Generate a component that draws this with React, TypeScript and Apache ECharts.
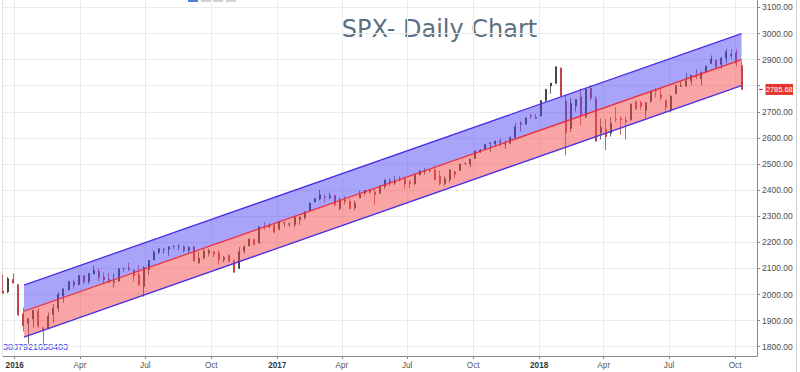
import React, { useEffect, useRef } from "react";
import * as echarts from "echarts";

// Weekly candles (week starting Monday)
const weekStarts = [
  "2015-12-14", "2015-12-21", "2015-12-28",
  "2016-01-04", "2016-01-11", "2016-01-18", "2016-01-25", "2016-02-01", "2016-02-08", "2016-02-15", "2016-02-22", "2016-02-29", "2016-03-07",
  "2016-03-14", "2016-03-21", "2016-03-28", "2016-04-04", "2016-04-11", "2016-04-18", "2016-04-25", "2016-05-02", "2016-05-09", "2016-05-16",
  "2016-05-23", "2016-05-30", "2016-06-06", "2016-06-13", "2016-06-20", "2016-06-27", "2016-07-04", "2016-07-11", "2016-07-18", "2016-07-25",
  "2016-08-01", "2016-08-08", "2016-08-15", "2016-08-22", "2016-08-29", "2016-09-05", "2016-09-12", "2016-09-19", "2016-09-26", "2016-10-03",
  "2016-10-10", "2016-10-17", "2016-10-24", "2016-10-31", "2016-11-07", "2016-11-14", "2016-11-21", "2016-11-28", "2016-12-05", "2016-12-12",
  "2016-12-19", "2016-12-26",
  "2017-01-02", "2017-01-09", "2017-01-16", "2017-01-23", "2017-01-30", "2017-02-06", "2017-02-13", "2017-02-20", "2017-02-27", "2017-03-06",
  "2017-03-13", "2017-03-20", "2017-03-27", "2017-04-03", "2017-04-10", "2017-04-17", "2017-04-24", "2017-05-01", "2017-05-08", "2017-05-15",
  "2017-05-22", "2017-05-29", "2017-06-05", "2017-06-12", "2017-06-19", "2017-06-26", "2017-07-03", "2017-07-10", "2017-07-17", "2017-07-24",
  "2017-07-31", "2017-08-07", "2017-08-14", "2017-08-21", "2017-08-28", "2017-09-04", "2017-09-11", "2017-09-18", "2017-09-25", "2017-10-02",
  "2017-10-09", "2017-10-16", "2017-10-23", "2017-10-30", "2017-11-06", "2017-11-13", "2017-11-20", "2017-11-27", "2017-12-04", "2017-12-11",
  "2017-12-18", "2017-12-25",
  "2018-01-01", "2018-01-08", "2018-01-15", "2018-01-22", "2018-01-29", "2018-02-05", "2018-02-12", "2018-02-19", "2018-02-26", "2018-03-05",
  "2018-03-12", "2018-03-19", "2018-03-26", "2018-04-02", "2018-04-09", "2018-04-16", "2018-04-23", "2018-04-30", "2018-05-07", "2018-05-14",
  "2018-05-21", "2018-05-28", "2018-06-04", "2018-06-11", "2018-06-18", "2018-06-25", "2018-07-02", "2018-07-09", "2018-07-16", "2018-07-23",
  "2018-07-30", "2018-08-06", "2018-08-13", "2018-08-20", "2018-08-27", "2018-09-03", "2018-09-10", "2018-09-17", "2018-09-24", "2018-10-01",
  "2018-10-08",
];

const opens = [
  2013, 2010, 2058,
  2038, 1926, 1889, 1906, 1937, 1873, 1871, 1924, 1947, 1996,
  2019, 2048, 2038, 2073, 2050, 2079, 2089, 2067, 2058, 2047,
  2052, 2100, 2101, 2092, 2076, 2031, 2095, 2132, 2162, 2173,
  2173, 2184, 2184, 2183, 2170, 2182, 2121, 2141, 2159, 2164,
  2160, 2133, 2149, 2130, 2101, 2166, 2186, 2210, 2198, 2259,
  2259, 2266,
  2251, 2274, 2269, 2268, 2286, 2294, 2321, 2355, 2366, 2375,
  2371, 2379, 2330, 2363, 2357, 2332, 2370, 2389, 2399, 2393,
  2388, 2414, 2437, 2427, 2442, 2443, 2431, 2424, 2459, 2472,
  2475, 2477, 2454, 2425, 2440, 2470, 2475, 2503, 2500, 2521,
  2551, 2557, 2578, 2577, 2588, 2576, 2580, 2603, 2657, 2652,
  2686, 2679,
  2684, 2743, 2799, 2809, 2867, 2741, 2636, 2722, 2757, 2681,
  2790, 2750, 2619, 2633, 2618, 2671, 2675, 2668, 2670, 2738,
  2735, 2705, 2741, 2781, 2766, 2742, 2705, 2769, 2798, 2799,
  2819, 2840, 2827, 2853, 2885, 2897, 2881, 2906, 2921, 2926,
  2877,
];

const highs = [
  2076, 2067, 2081,
  2038, 1950, 1909, 1940, 1947, 1873, 1931, 1963, 2009, 2022,
  2052, 2057, 2075, 2074, 2083, 2111, 2100, 2085, 2084, 2080,
  2099, 2103, 2121, 2098, 2113, 2109, 2132, 2169, 2176, 2177,
  2183, 2188, 2194, 2188, 2185, 2187, 2163, 2175, 2175, 2166,
  2170, 2148, 2155, 2133, 2182, 2190, 2213, 2214, 2260, 2278,
  2273, 2274,
  2283, 2280, 2276, 2301, 2299, 2319, 2352, 2368, 2401, 2384,
  2390, 2382, 2370, 2378, 2366, 2361, 2398, 2400, 2404, 2406,
  2418, 2440, 2446, 2454, 2453, 2451, 2439, 2463, 2478, 2484,
  2478, 2490, 2474, 2454, 2480, 2474, 2500, 2508, 2520, 2552,
  2557, 2575, 2582, 2588, 2597, 2590, 2605, 2657, 2665, 2679,
  2694, 2692,
  2744, 2787, 2810, 2873, 2870, 2763, 2754, 2747, 2789, 2787,
  2802, 2761, 2675, 2672, 2680, 2718, 2683, 2683, 2733, 2742,
  2742, 2736, 2779, 2791, 2790, 2746, 2763, 2804, 2816, 2848,
  2841, 2863, 2855, 2876, 2916, 2901, 2911, 2941, 2940, 2940,
  2894,
];

const lows = [
  2005, 2005, 2043,
  1918, 1858, 1812, 1873, 1873, 1810, 1871, 1891, 1932, 1969,
  2013, 2022, 2036, 2040, 2040, 2078, 2052, 2039, 2044, 2026,
  2047, 2085, 2090, 2050, 2033, 1992, 2074, 2132, 2155, 2157,
  2148, 2175, 2169, 2160, 2157, 2128, 2119, 2133, 2145, 2143,
  2115, 2124, 2126, 2084, 2098, 2156, 2186, 2187, 2193, 2248,
  2254, 2234,
  2245, 2258, 2259, 2257, 2267, 2288, 2321, 2352, 2360, 2354,
  2365, 2336, 2322, 2344, 2328, 2323, 2370, 2380, 2386, 2344,
  2386, 2404, 2415, 2419, 2431, 2405, 2407, 2418, 2456, 2459,
  2467, 2437, 2418, 2417, 2429, 2446, 2475, 2496, 2488, 2520,
  2542, 2553, 2544, 2566, 2566, 2557, 2576, 2597, 2625, 2652,
  2673, 2673,
  2683, 2737, 2769, 2808, 2759, 2533, 2622, 2702, 2648, 2675,
  2743, 2585, 2594, 2553, 2605, 2660, 2612, 2594, 2665, 2707,
  2708, 2676, 2735, 2755, 2744, 2699, 2698, 2768, 2795, 2796,
  2802, 2825, 2802, 2853, 2884, 2865, 2864, 2886, 2903, 2874,
  2784,
];

const closes = [
  2005, 2060, 2044,
  1922, 1880, 1907, 1940, 1880, 1865, 1918, 1948, 2000, 2022,
  2050, 2036, 2073, 2048, 2081, 2092, 2065, 2057, 2047, 2052,
  2099, 2099, 2096, 2071, 2037, 2103, 2130, 2162, 2175, 2174,
  2183, 2184, 2184, 2169, 2180, 2128, 2139, 2165, 2168, 2154,
  2133, 2141, 2126, 2085, 2164, 2182, 2213, 2192, 2260, 2258,
  2264, 2239,
  2277, 2275, 2271, 2295, 2297, 2316, 2351, 2367, 2383, 2373,
  2378, 2344, 2363, 2355, 2329, 2349, 2384, 2399, 2391, 2382,
  2416, 2439, 2432, 2433, 2438, 2423, 2425, 2459, 2472, 2472,
  2476, 2441, 2426, 2443, 2477, 2461, 2500, 2502, 2519, 2549,
  2553, 2575, 2581, 2588, 2582, 2579, 2602, 2642, 2652, 2676,
  2683, 2674,
  2743, 2786, 2810, 2873, 2762, 2620, 2732, 2747, 2691, 2786,
  2752, 2588, 2641, 2604, 2656, 2670, 2670, 2663, 2728, 2712,
  2721, 2735, 2779, 2780, 2755, 2718, 2760, 2801, 2802, 2819,
  2840, 2833, 2850, 2875, 2902, 2872, 2905, 2930, 2914, 2886,
  2785.68,
];

// Regression channel endpoints
const channelDates = ["2016-01-14", "2018-10-10"];
const channelUpper = [2036, 3000];
const channelMid = [1936, 2900];
const channelLower = [1837, 2800];

const yGridValues = [1800, 1900, 2000, 2100, 2200, 2300, 2400, 2500, 2600, 2700, 2800, 2900, 3000, 3100];
const yLabelValues = [1800, 1900, 2000, 2100, 2200, 2300, 2400, 2500, 2600, 2700, 2900, 3000, 3100];
const xTickDates = [
  "2016-01-01", "2016-04-01", "2016-07-01", "2016-10-01",
  "2017-01-01", "2017-04-01", "2017-07-01", "2017-10-01",
  "2018-01-01", "2018-04-01", "2018-07-01", "2018-10-01",
];
const monthNames = ["Jan", "Feb", "Mar", "Apr", "May", "Jun", "Jul", "Aug", "Sep", "Oct", "Nov", "Dec"];

const titleText = "SPX- Daily Chart";
const idText = "3837921658403";
const lastPrice = closes[closes.length - 1];

const DAY = 86400000;
const ts = (s: string) => {
  const [y, m, d] = s.split("-").map(Number);
  return Date.UTC(y, m - 1, d);
};
const JAN1 = ts("2016-01-01");

export default function App() {
  const ref = useRef<HTMLDivElement>(null);

  useEffect(() => {
    const chart = echarts.init(ref.current!, null, { renderer: "svg" });

    const candleData = weekStarts.map((w, i) => [ts(w) + 2 * DAY, opens[i], closes[i], lows[i], highs[i]]);
    const cx = channelDates.map(ts);
    const xTicks = xTickDates.map(ts);
    const xMin = JAN1 - 16.3 * DAY;
    const xMax = JAN1 + 1034.6 * DAY;

    const font = "'Liberation Sans', Arial, sans-serif";
    const blueLine = "#4b2fe6";
    const redLine = "#ec2a3a";

    chart.setOption({
      animation: false,
      backgroundColor: "#ffffff",
      grid: { left: 3, right: 43, top: 0, bottom: 16, containLabel: false },
      xAxis: {
        type: "value",
        min: xMin,
        max: xMax,
        axisLine: { show: true, lineStyle: { color: "#8a8a8a", width: 1 } },
        axisTick: { show: true, length: 3, customValues: xTicks, lineStyle: { color: "#8a8a8a" } },
        axisLabel: {
          customValues: xTicks,
          fontFamily: font,
          fontSize: 8.2,
          color: "#555",
          margin: 5,
          formatter: (v: number) => {
            const d = new Date(v);
            const m = d.getUTCMonth();
            return m === 0 ? `{y|${d.getUTCFullYear()}}` : monthNames[m];
          },
          rich: { y: { fontWeight: "bold", color: "#333", fontSize: 8.2, fontFamily: font } },
        },
        splitLine: { show: true, lineStyle: { color: "#ebebeb", width: 1 } },
      },
      yAxis: {
        type: "value",
        position: "right",
        min: 1764.4,
        max: 3128.4,
        axisLine: { show: true, lineStyle: { color: "#8a8a8a", width: 1 } },
        axisTick: { show: true, length: 3, customValues: yGridValues, lineStyle: { color: "#8a8a8a" } },
        axisLabel: {
          customValues: yLabelValues,
          fontFamily: font,
          fontSize: 8.5,
          color: "#4d4d4d",
          margin: 5,
          formatter: (v: number) => v.toFixed(2),
        },
        splitLine: { show: true, lineStyle: { color: "#ebebeb", width: 1 } },
      },
      series: [
        {
          type: "candlestick",
          z: 2,
          barWidth: 1.5,
          data: candleData,
          itemStyle: {
            color: "#262626",
            color0: "#b8232a",
            borderColor: "#262626",
            borderColor0: "#b8232a",
            borderWidth: 0.7,
          },
        },
        {
          type: "custom",
          z: 3,
          silent: true,
          data: [[cx[0], channelLower[0]]],
          encode: { x: 0, y: 1 },
          renderItem: (_params: any, api: any) => {
            const up = cx.map((x, i) => api.coord([x, channelUpper[i]]));
            const md = cx.map((x, i) => api.coord([x, channelMid[i]]));
            const lo = cx.map((x, i) => api.coord([x, channelLower[i]]));
            const seg = (p: number[][], color: string, w: number) => ({
              type: "line",
              shape: { x1: p[0][0], y1: p[0][1], x2: p[1][0], y2: p[1][1] },
              style: { stroke: color, lineWidth: w, fill: null },
            });
            return {
              type: "group",
              children: [
                { type: "polygon", shape: { points: [up[0], up[1], md[1], md[0]] }, style: { fill: "rgba(80,74,246,0.5)" } },
                { type: "polygon", shape: { points: [md[0], md[1], lo[1], lo[0]] }, style: { fill: "rgba(244,76,76,0.5)" } },
                seg(up, blueLine, 1.3),
                seg(lo, blueLine, 1.3),
                seg(md, redLine, 1.2),
              ],
            };
          },
        },
      ],
      graphic: [
        {
          id: "title",
          type: "text",
          x: 439.5,
          y: 29,
          style: {
            text: titleText,
            fill: "#5b6f82",
            stroke: "none",
            lineWidth: 0,
            fontFamily: "'DejaVu Sans', Verdana, sans-serif",
            fontSize: 24,
            fontWeight: "normal",
            textAlign: "center",
            textVerticalAlign: "middle",
          },
        },
        {
          id: "idtext",
          type: "text",
          x: 3,
          y: 346.7,
          style: {
            text: idText,
            fill: "#3d3df2",
            stroke: "none",
            fontFamily: "'Liberation Sans', Arial, sans-serif",
            fontSize: 9,
            textAlign: "left",
            textVerticalAlign: "middle",
          },
        },
        { id: "r1", type: "rect", shape: { x: 188, y: 0, width: 10, height: 2 }, style: { fill: "#4a7fe0" } },
        { id: "r2", type: "rect", shape: { x: 201, y: 0, width: 10, height: 2 }, style: { fill: "#d2d2d2" } },
        { id: "r3", type: "rect", shape: { x: 213, y: 0, width: 10, height: 2 }, style: { fill: "#d2d2d2" } },
        { id: "r4", type: "rect", shape: { x: 226, y: 0, width: 10, height: 2 }, style: { fill: "#d2d2d2" } },
        { id: "rb", type: "line", shape: { x1: 796.5, y1: 0, x2: 796.5, y2: 372 }, style: { stroke: "#d0d0d0", lineWidth: 1 } },
        { id: "lb", type: "line", shape: { x1: 2.5, y1: 0, x2: 2.5, y2: 356 }, style: { stroke: "#e2e2e2", lineWidth: 1 } },
      ],
    });

    // Last-price tag on the price axis, positioned through the y scale
    const py = chart.convertToPixel({ yAxisIndex: 0 }, lastPrice) as number;
    const axisX = chart.convertToPixel({ xAxisIndex: 0 }, xMax) as number;
    chart.setOption({
      graphic: [
        {
          id: "tagDash",
          type: "line",
          shape: { x1: axisX + 2, y1: py, x2: axisX + 6, y2: py },
          style: { stroke: "#e2362c", lineWidth: 1 },
        },
        {
          id: "tagBox",
          type: "rect",
          shape: { x: axisX + 8.5, y: py - 5.5, width: 27.5, height: 11 },
          style: { fill: "#e2362c" },
        },
        {
          id: "tagText",
          type: "text",
          x: axisX + 22.25,
          y: py,
          style: {
            text: lastPrice.toFixed(2),
            fill: "#ffffff",
            stroke: "none",
            fontFamily: "'Liberation Sans', Arial, sans-serif",
            fontSize: 7.4,
            textAlign: "center",
            textVerticalAlign: "middle",
          },
        },
      ],
    });

    return () => chart.dispose();
  }, []);

  return (
    <div
      ref={ref}
      style={{ position: "fixed", left: 0, top: 0, width: 800, height: 372, background: "#fff" }}
    />
  );
}
